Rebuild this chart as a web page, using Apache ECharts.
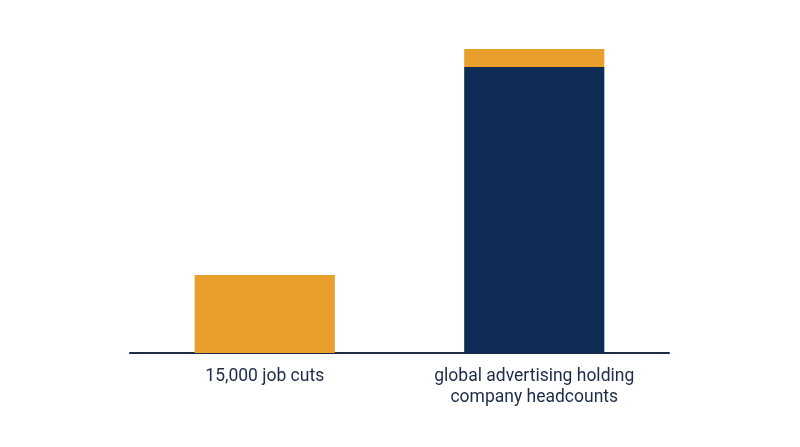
<!DOCTYPE html>
<html><head><meta charset="utf-8">
<script src="https://cdn.jsdelivr.net/npm/echarts@6/dist/echarts.min.js"></script>
<style>html,body{margin:0;padding:0;background:#fff}#c{width:800px;height:447px}</style>
</head><body><div id="c"></div>
<script>
var categories = ['15,000 job cuts', 'global advertising holding\ncompany headcounts'];
var headcountValues = [null, 286];
var cutsValues = [78, 18];
var chart = echarts.init(document.getElementById('c'));
chart.setOption({
  animation: false,
  grid: {left: 130, right: 131, top: 49, bottom: 94},
  xAxis: {
    type: 'category', data: categories,
    axisLine: {lineStyle: {color: '#1c2b48', width: 2}},
    axisTick: {show: false},
    axisLabel: {color: '#1c2b48', fontFamily: 'Roboto', fontSize: 17.5, lineHeight: 21, margin: 13, interval: 0}
  },
  yAxis: {type: 'value', min: 0, max: 304, show: false, splitLine: {show: false}},
  series: [
    {type: 'bar', stack: 's', data: headcountValues, barWidth: '52%', itemStyle: {color: '#0f2c56'}},
    {type: 'bar', stack: 's', data: cutsValues, barWidth: '52%', itemStyle: {color: '#e89f2b'}}
  ]
});
</script></body></html>
